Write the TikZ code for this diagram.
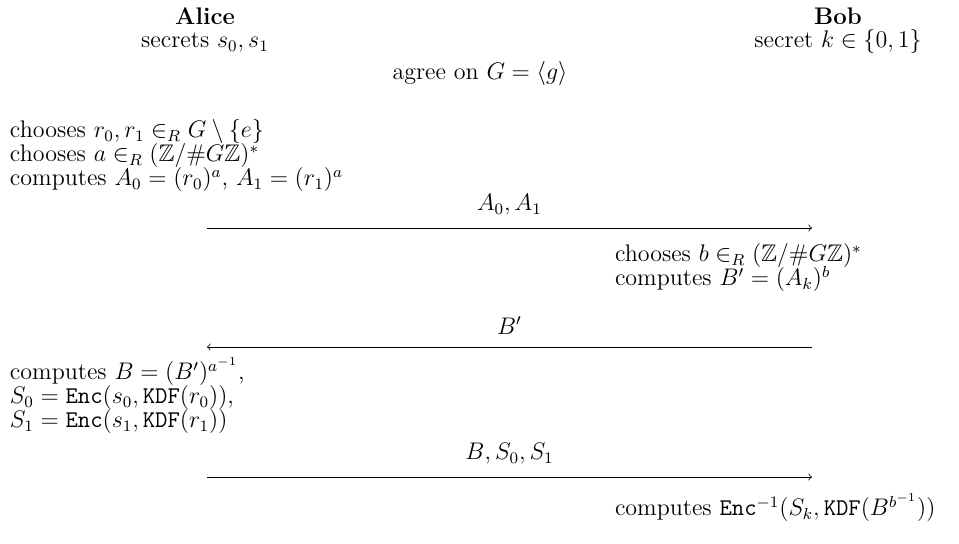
\documentclass[tikz,border=0pt,12pt]{standalone}
\usepackage{amsmath,amssymb}
\begin{document}
\begin{tikzpicture}[x=0.5pt,y=-0.5pt,
  txt/.style={inner sep=0pt,outer sep=0pt,anchor=base west},
  ctxt/.style={inner sep=0pt,outer sep=0pt,anchor=base},
  msg/.style={line width=0.4pt,->},
  lbl/.style={inner sep=0pt,anchor=base}]
\useasboundingbox (0,0) rectangle (959,544);
% headers
\node[ctxt] (alice) at (205,25) {\textbf{Alice}};
\node[ctxt] (asec) at (205,48) {secrets $s_0, s_1$};
\node[ctxt] (bob) at (838,25) {\textbf{Bob}};
\node[ctxt] (bsec) at (838,48) {secret $k \in \{0,1\}$};
\node[ctxt] (agree) at (480,80) {agree on $G = \langle g\rangle$};
% Alice step 1
\node[txt] (a1) at (10,138) {chooses $r_0, r_1 \in_R G \setminus \{e\}$};
\node[txt] (a2) at (10,162) {chooses $a \in_R (\mathbb{Z}/\#G\mathbb{Z})^*$};
\node[txt] (a3) at (10,186) {computes $A_0 = (r_0)^a$, $A_1 = (r_1)^a$};
% message 1
\coordinate (m1s) at (207,228);
\coordinate (m1e) at (812,228);
\draw[msg] (m1s) -- node[lbl,above=6pt] (l1) {$A_0, A_1$} (m1e);
% Bob step
\node[txt] (b1) at (615,262) {chooses $b \in_R (\mathbb{Z}/\#G\mathbb{Z})^*$};
\node[txt] (b2) at (615,286) {computes $B' = (A_k)^b$};
% message 2
\coordinate (m2s) at (812,347);
\coordinate (m2e) at (207,347);
\draw[msg] (m2s) -- node[lbl,above=6pt] (l2) {$B'$} (m2e);
% Alice step 2
\node[txt] (c1) at (10,380) {computes $B = (B')^{a^{-1}}$,};
\node[txt] (c2) at (10,404) {$S_0 = \texttt{Enc}(s_0, \texttt{KDF}(r_0))$,};
\node[txt] (c3) at (10,428) {$S_1 = \texttt{Enc}(s_1, \texttt{KDF}(r_1))$};
% message 3
\coordinate (m3s) at (207,477);
\coordinate (m3e) at (812,477);
\draw[msg] (m3s) -- node[lbl,above=6pt] (l3) {$B, S_0, S_1$} (m3e);
% Bob final
\node[txt] (d1) at (615,516) {computes $\texttt{Enc}^{-1}(S_k, \texttt{KDF}(B^{b^{-1}}))$};
\end{tikzpicture}
\end{document}
